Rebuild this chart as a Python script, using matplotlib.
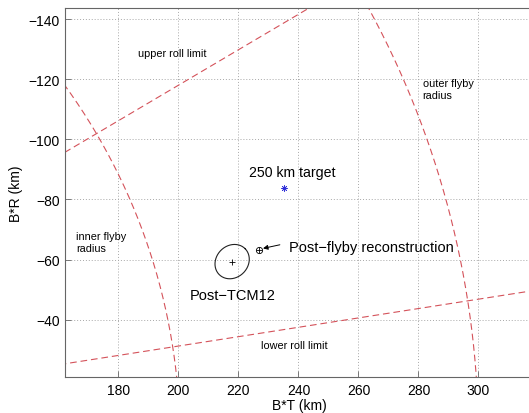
import numpy as np
import matplotlib
matplotlib.use("Agg")
import matplotlib.pyplot as plt

plt.rcParams['font.family'] = ['Liberation Sans', 'DejaVu Sans']

# ---- data (km, B-plane) ----
inner_radius = 200.5
outer_radius = 300.0
upper_roll_slope = -0.59     # B*R / B*T along upper roll limit (ray through origin)
lower_roll_slope = -0.156    # B*R / B*T along lower roll limit
target_T, target_R = 235.3, -83.8
tcm12_T, tcm12_R = 217.9, -59.3
tcm12_semi = [6.1, 5.3]      # ellipse semi-axes (major, minor)
tcm12_angle_deg = -45.0
recon_T, recon_R = 226.9, -63.3
x_ticks = [180, 200, 220, 240, 260, 280, 300]
y_ticks = [-140, -120, -100, -80, -60, -40]
xlim = (162.3, 318.5)
ylim = (-20.8, -143.6)

W, H = 529, 414
fig = plt.figure(figsize=(W / 100, H / 100), dpi=100)
ax = fig.add_axes([65.3 / W, 1 - 378.3 / H, (534 - 65.3) / W, (378.3 - 9.3) / H])

red = '#d4525a'
dash = (0, (6, 3.5))

# roll limit lines
T = np.linspace(150, 330, 200)
ax.plot(T, upper_roll_slope * T, color=red, lw=0.8, linestyle=dash)
ax.plot(T, lower_roll_slope * T, color=red, lw=0.8, linestyle=dash)

# flyby radius circles
th = np.linspace(0, np.pi / 2, 800)
ax.plot(inner_radius * np.cos(th), -inner_radius * np.sin(th), color=red, lw=0.8, linestyle=dash)
ax.plot(outer_radius * np.cos(th), -outer_radius * np.sin(th), color=red, lw=0.8, linestyle=dash)

# target
ax.plot([target_T], [target_R], marker=(8, 2, 0), color='#3030d8', ms=4.5, mew=0.5, ls='none')
ax.text(223.5, -89.1, '250 km target', fontsize=10.2, ha='left', va='center')

# post-TCM12 ellipse
t = np.linspace(0, 2 * np.pi, 200)
a, b = tcm12_semi
ang = np.deg2rad(tcm12_angle_deg)
ex = a * np.cos(t)
ey = b * np.sin(t)
ax.plot(tcm12_T + ex * np.cos(ang) - ey * np.sin(ang),
        tcm12_R + ex * np.sin(ang) + ey * np.cos(ang), color='#222222', lw=0.8)
ax.plot([tcm12_T], [tcm12_R], marker='+', color='black', ms=5, mew=0.6, ls='none')
ax.text(203.8, -48.3, 'Post\u2212TCM12', fontsize=10.5, ha='left', va='center')

# post-flyby reconstruction
ax.plot([recon_T], [recon_R], marker='o', mfc='none', color='black', ms=4.5, mew=0.6, ls='none')
ax.plot([recon_T], [recon_R], marker='+', color='black', ms=4.5, mew=0.6, ls='none')
ax.annotate('', xy=(228.2, -63.7), xytext=(233.8, -64.9),
            arrowprops=dict(arrowstyle='-|>', color='black', lw=0.7,
                            mutation_scale=7, shrinkA=0, shrinkB=0))
ax.text(236.9, -64.1, 'Post\u2212flyby reconstruction', fontsize=10.5, ha='left', va='center')

# small labels
ax.text(186.6, -128.7, 'upper roll limit', fontsize=7.8, ha='left', va='center')
ax.text(281.4, -116.7, 'outer flyby\nradius', fontsize=7.8, ha='left', va='center', linespacing=1.25)
ax.text(165.8, -65.8, 'inner flyby\nradius', fontsize=7.8, ha='left', va='center', linespacing=1.25)
ax.text(227.5, -31.6, 'lower roll limit', fontsize=7.8, ha='left', va='center')

ax.set_xlim(*xlim)
ax.set_ylim(*ylim)
ax.set_xticks(x_ticks)
ax.set_yticks(y_ticks)
ax.set_yticklabels([f'\u2212{abs(v)}' for v in y_ticks])
ax.grid(True, linestyle=(0, (1, 2)), color='#a8a8a8', lw=0.7)
ax.tick_params(direction='in', length=4, width=0.6, color='#666666', labelsize=10, pad=4)
for s in ax.spines.values():
    s.set_color('#666666')
    s.set_linewidth(0.8)
ax.set_xlabel('B*T (km)', fontsize=10, labelpad=1)
ax.set_ylabel('B*R (km)', fontsize=10, labelpad=4)

fig.savefig('out.png', dpi=100)
